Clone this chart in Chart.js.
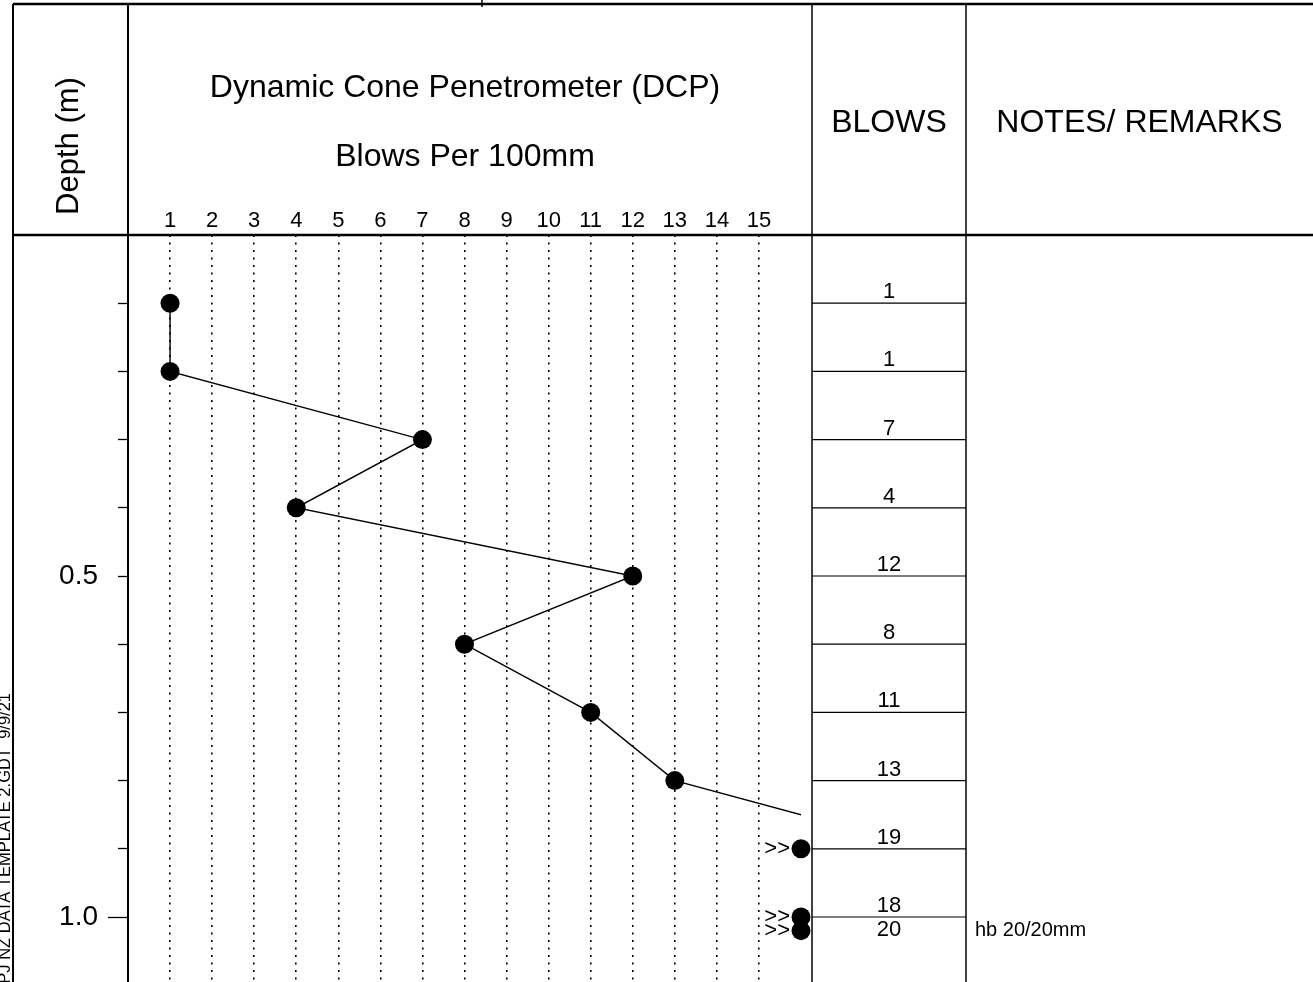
<!DOCTYPE html>
<html>
<head>
<meta charset="utf-8">
<title>DCP log</title>
<script src="https://cdn.jsdelivr.net/npm/chart.js@4.4.0/dist/chart.umd.min.js"></script>
<style>
  html, body { margin: 0; padding: 0; background: #fff; }
  #wrap { position: relative; width: 1313px; height: 982px; }
</style>
</head>
<body>
<div id="wrap"><canvas id="dcpChart"></canvas></div>
<script>
// ============================================
// DCP log - data
// ============================================
const depths = [0.1, 0.2, 0.3, 0.4, 0.5, 0.6, 0.7, 0.8, 0.9, 1.0, 1.02];
const blows = [1, 1, 7, 4, 12, 8, 11, 13, 19, 18, 20];
const blowTicks = [1, 2, 3, 4, 5, 6, 7, 8, 9, 10, 11, 12, 13, 14, 15];
const depthTicks = [0.1, 0.2, 0.3, 0.4, 0.5, 0.6, 0.7, 0.8, 0.9, 1.0];
const depthLabels = [0.5, 1.0];
const majorDepths = [1.0];
const noteDepths = [1.02];
const noteTexts = ['hb 20/20mm'];
const footerText = '.GPJ NZ DATA TEMPLATE 2.GDT  9/9/21';

// axis limits (blows above the last tick are drawn at the edge with >>)
const blowsMax = 16;
const depthMax = 1.0953;
const blowsLimit = blowTicks[blowTicks.length - 1];

// table layout
const FONT = '"Liberation Sans", Arial, sans-serif';
const FRAME_LEFT = 13;
const DEPTH_COL = 128;
const FRAME_TOP = 4;
const HEADER_Y = 235;
const BLOWS_LEFT = 812;
const BLOWS_RIGHT = 966;
const PAGE_W = 1313;
const PAGE_H = 982;
const PLOT_RIGHT = 801;

function rowBaseline(yScale, i) {
    const top = yScale.getPixelForValue(i === 0 ? 0 : depths[i - 1]);
    const bottom = yScale.getPixelForValue(depths[i]);
    return Math.max(bottom - 5, top + 19);
}

const logFrame = {
    id: 'logFrame',
    afterDraw(chart) {
        const ctx = chart.ctx;
        const yScale = chart.scales.y;
        ctx.save();
        ctx.strokeStyle = '#000';
        ctx.fillStyle = '#000';

        const line = (x1, y1, x2, y2, w) => {
            ctx.lineWidth = w;
            ctx.beginPath();
            ctx.moveTo(x1, y1);
            ctx.lineTo(x2, y2);
            ctx.stroke();
        };

        // frame
        line(FRAME_LEFT, FRAME_TOP, PAGE_W, FRAME_TOP, 2.5);
        line(482, 0, 482, FRAME_TOP + 3, 1.5);
        line(FRAME_LEFT, FRAME_TOP, FRAME_LEFT, PAGE_H, 2);
        line(DEPTH_COL, FRAME_TOP, DEPTH_COL, HEADER_Y, 2);
        line(BLOWS_LEFT, FRAME_TOP, BLOWS_LEFT, PAGE_H, 1.5);
        line(BLOWS_RIGHT, FRAME_TOP, BLOWS_RIGHT, PAGE_H, 1.5);
        line(FRAME_LEFT, HEADER_Y, PAGE_W, HEADER_Y, 2.5);

        // headings
        ctx.textAlign = 'center';
        ctx.textBaseline = 'alphabetic';
        ctx.font = '32px ' + FONT;
        ctx.fillText('Dynamic Cone Penetrometer (DCP)', 465, 97);
        ctx.fillText('Blows Per 100mm', 465, 166);
        ctx.fillText('BLOWS', (BLOWS_LEFT + BLOWS_RIGHT) / 2, 132);
        ctx.fillText('NOTES/ REMARKS', (BLOWS_RIGHT + PAGE_W) / 2, 132);

        ctx.save();
        ctx.translate(78, 146);
        ctx.rotate(-Math.PI / 2);
        ctx.font = '31px ' + FONT;
        ctx.fillText('Depth (m)', 0, 0);
        ctx.restore();

        // footer stamp on the left edge
        ctx.save();
        ctx.translate(9.5, 693);
        ctx.rotate(-Math.PI / 2);
        ctx.textAlign = 'right';
        ctx.font = '16.5px ' + FONT;
        ctx.fillText(footerText, 0, 0);
        ctx.restore();

        // blows column
        ctx.font = '22px ' + FONT;
        ctx.textAlign = 'center';
        depths.forEach((d, i) => {
            const y = yScale.getPixelForValue(d);
            if (i < depths.length - 1) line(BLOWS_LEFT, y, BLOWS_RIGHT, y, 1.2);
            ctx.fillText(String(blows[i]), (BLOWS_LEFT + BLOWS_RIGHT) / 2, rowBaseline(yScale, i));
        });

        // notes
        ctx.font = '20px ' + FONT;
        ctx.textAlign = 'left';
        noteDepths.forEach((d, k) => {
            const i = depths.indexOf(d);
            ctx.fillText(noteTexts[k], BLOWS_RIGHT + 9, rowBaseline(yScale, i));
        });

        // >> on points beyond the scale
        const meta = chart.getDatasetMeta(0);
        ctx.font = '22px ' + FONT;
        ctx.textAlign = 'right';
        ctx.textBaseline = 'middle';
        meta.data.forEach((pt, i) => {
            if (blows[i] > blowsLimit) ctx.fillText('>>', pt.x - 11, pt.y);
        });

        ctx.restore();
    }
};

const markerData = depths.map((d, i) => ({ x: Math.min(blows[i], blowsMax), y: d }));
const profileData = depths.map((d, i) => ({ x: blows[i], y: d }));

const dcpChart = new Chart(document.getElementById('dcpChart'), {
    type: 'scatter',
    data: {
        datasets: [
            {
                label: 'Blows',
                data: markerData,
                showLine: false,
                pointRadius: 9.5,
                pointBackgroundColor: '#000',
                pointBorderWidth: 0,
                clip: false
            },
            {
                label: 'Profile',
                data: profileData,
                showLine: true,
                borderColor: '#000',
                borderWidth: 1.4,
                pointRadius: 0,
                tension: 0
            }
        ]
    },
    options: {
        responsive: true,
        maintainAspectRatio: false,
        animation: false,
        events: [],
        layout: {
            autoPadding: false,
            padding: { left: 0, top: 0, right: PAGE_W - PLOT_RIGHT, bottom: 0 }
        },
        plugins: {
            legend: { display: false },
            tooltip: { enabled: false }
        },
        scales: {
            x: {
                type: 'linear',
                position: 'top',
                min: 0,
                max: blowsMax,
                afterFit: s => {
                    s.height = HEADER_Y;
                    s.paddingLeft = 0;
                    s.paddingRight = 0;
                },
                afterBuildTicks: s => { s.ticks = blowTicks.map(v => ({ value: v })); },
                grid: {
                    color: '#000',
                    lineWidth: 1.6,
                    drawTicks: false
                },
                border: { display: false, dash: [2, 5.5] },
                ticks: {
                    autoSkip: false,
                    maxRotation: 0,
                    padding: 1,
                    color: '#000',
                    font: { family: FONT, size: 22 }
                }
            },
            y: {
                type: 'linear',
                position: 'left',
                reverse: true,
                min: 0,
                max: depthMax,
                afterFit: s => {
                    s.width = DEPTH_COL;
                    s.paddingTop = 0;
                    s.paddingBottom = 0;
                },
                afterBuildTicks: s => { s.ticks = depthTicks.map(v => ({ value: v })); },
                grid: {
                    drawOnChartArea: false,
                    drawTicks: true,
                    tickLength: 20,
                    tickColor: '#000',
                    tickWidth: 1.3,
                    tickBorderDash: c => (c.tick && majorDepths.includes(c.tick.value)) ? [] : [10, 10],
                    tickBorderDashOffset: c => (c.tick && majorDepths.includes(c.tick.value)) ? 0 : 10
                },
                border: { display: true, color: '#000', width: 2 },
                ticks: {
                    autoSkip: false,
                    padding: 10,
                    color: '#000',
                    font: { family: FONT, size: 28 },
                    callback: v => depthLabels.includes(v) ? v.toFixed(1) : ''
                }
            }
        }
    },
    plugins: [logFrame]
});
</script>
</body>
</html>
